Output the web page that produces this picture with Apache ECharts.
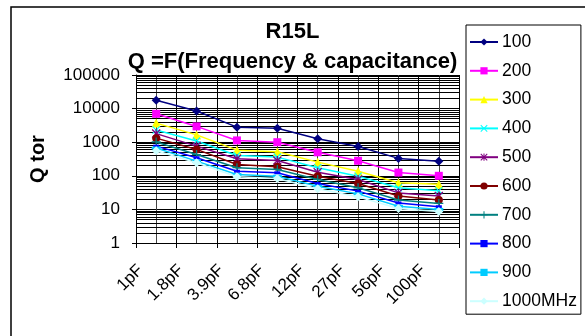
<!DOCTYPE html>
<html>
<head>
<meta charset="utf-8">
<script src="https://cdn.jsdelivr.net/npm/echarts@6/dist/echarts.min.js"></script>
<style>html,body{margin:0;padding:0;background:#fff;}#c{width:585px;height:336px;}</style>
</head>
<body>
<div id="c"></div>
<script>
var categories = ['1pF','1.8pF','3.9pF','6.8pF','12pF','27pF','56pF','100pF'];
var seriesNames = ['100','200','300','400','500','600','700','800','900','1000MHz'];
var q100 = [17800, 8500, 2800, 2600, 1270, 740, 330, 270];
var q200 = [7000, 2950, 1130, 1000, 500, 280, 125, 100];
var q300 = [3700, 1650, 580, 520, 255, 137, 62, 56];
var q400 = [2300, 1080, 400, 360, 174, 97, 44, 36];
var q500 = [1800, 765, 320, 285, 128, 78, 31, 25];
var q600 = [1320, 610, 217, 186, 97, 59, 25, 19];
var q700 = [1020, 430, 174, 155, 78, 44, 19, 15];
var q800 = [765, 345, 137, 123, 59, 35, 15.6, 12];
var q900 = [670, 274, 109, 97, 49, 29, 12.4, 10];
var q1000 = [560, 245, 94, 83, 41, 23.6, 10.6, 8.6];
var yTicks = [1, 10, 100, 1000, 10000, 100000];

var allData = [q100,q200,q300,q400,q500,q600,q700,q800,q900,q1000];
var colors = ['#000080','#FF00FF','#FFFF00','#00FFFF','#800080','#800000','#008080','#0000FF','#00CCFF','#CCFFFF'];
var symX = 'path://M0,1L1,0L5,4L9,0L10,1L6,5L10,9L9,10L5,6L1,10L0,9L4,5Z';
var symStar = 'path://M0,1L1,0L4.3,3.3L4.3,0L5.7,0L5.7,3.3L9,0L10,1L6.7,4.3L6.7,5.7L10,9L9,10L5.7,6.7L5.7,10L4.3,10L4.3,6.7L1,10L0,9L3.3,5.7L3.3,4.3Z';
var symPlus = 'path://M4.3,0H5.7V4.3H10V5.7H5.7V10H4.3V5.7H0V4.3H4.3Z';
var symbols = ['diamond','rect','triangle',symX,symStar,'circle',symPlus,'rect','rect','diamond'];
var symSizes = [9,8,9,8,9,8,9,[6,3],[9,3],9];

// minor gridline values (2..9 per decade) for log axis
var gridVals = [];
for (var d = 0; d < yTicks.length - 1; d++) {
  for (var m = 2; m <= 9; m++) gridVals.push({yAxis: m * yTicks[d]});
}

var series = allData.map(function (arr, i) {
  return {
    name: seriesNames[i], type: 'line', data: arr,
    xAxisIndex: 0, yAxisIndex: 0,
    symbol: symbols[i], symbolSize: symSizes[i],
    lineStyle: {color: colors[i], width: 1.5},
    itemStyle: {color: colors[i]},
    z: 5 + i
  };
}).reverse();
series.push({
  name: 'grid', type: 'line', data: [], xAxisIndex: 0, yAxisIndex: 0, z: 1, silent: true,
  markLine: {silent: true, symbol: ['none','none'], label: {show: false},
    lineStyle: {type: 'solid', color: '#000', width: 1}, data: gridVals, animation: false}
});

var chart = echarts.init(document.getElementById('c'));
chart.setOption({
  animation: false,
  backgroundColor: '#fff',
  title: {
    text: 'R15L\nQ =F(Frequency & capacitance)',
    left: 'center', top: 12,
    textStyle: {fontFamily: 'Liberation Sans', fontWeight: 'bold', fontSize: 22, lineHeight: 30, color: '#000'}
  },
  graphic: [{type: 'rect', shape: {x: 11, y: 7, width: 700, height: 500}, style: {fill: 'none', stroke: '#000', lineWidth: 1.5}, z: 100}],
  legend: {
    orient: 'vertical', left: 466, top: 25,
    data: seriesNames,
    itemWidth: 28, itemHeight: 9, itemGap: 10.8,
    padding: [8, 4, 4, 3],
    backgroundColor: '#fff', borderColor: '#000', borderWidth: 1,
    textStyle: {fontFamily: 'Liberation Sans', fontSize: 17.5, lineHeight: 18, color: '#000', padding: [0,0,0,-1]}
  },
  grid: {left: 136, top: 75, width: 323, height: 168},
  xAxis: [{
    type: 'category', data: categories, boundaryGap: true,
    axisLine: {lineStyle: {color: '#000', width: 1}},
    axisTick: {show: true, length: 5, lineStyle: {color: '#000'}},
    axisLabel: {rotate: 45, fontFamily: 'Liberation Sans', fontSize: 17, color: '#000', margin: 9, padding: [0, 22, 0, 0]},
    splitLine: {show: false}
  }, {
    type: 'value', min: 0, max: 16, interval: 1, show: true, position: 'bottom',
    axisLine: {show: false}, axisTick: {show: false}, axisLabel: {show: false},
    splitLine: {show: true, lineStyle: {color: ['#000', '#444'], width: 1}}
  }],
  yAxis: [{
    type: 'log', logBase: 10, min: 1, max: 100000,
    name: 'Q tor', nameLocation: 'middle', nameRotate: 90, nameGap: 88,
    nameTextStyle: {fontFamily: 'Liberation Sans', fontWeight: 'bold', fontSize: 20, color: '#000'},
    axisLine: {show: true, lineStyle: {color: '#000', width: 1}},
    axisTick: {show: true, length: 4, lineStyle: {color: '#000'}},
    axisLabel: {fontFamily: 'Liberation Sans', fontSize: 17, color: '#000', margin: 16,
      formatter: function (v) { return String(v); }},
    splitLine: {show: true, lineStyle: {color: '#000', width: 1}}
  }],
  series: series
});
</script>
</body>
</html>
